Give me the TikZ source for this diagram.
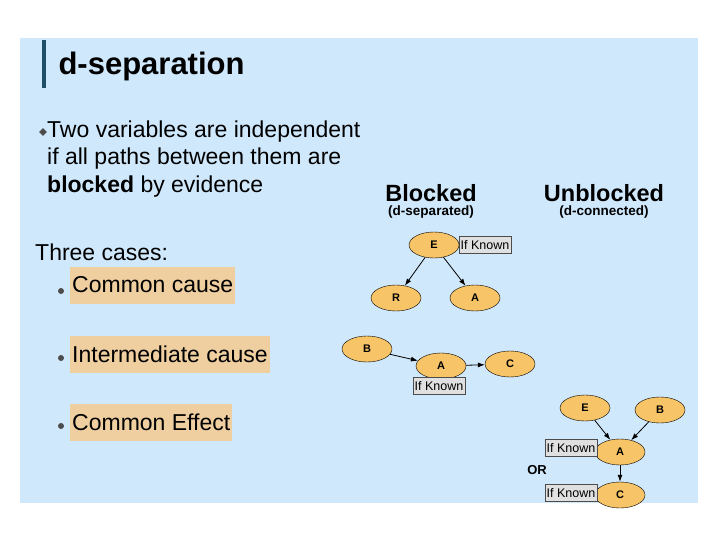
\documentclass[tikz,border=0pt]{standalone}
\usepackage{fontspec}
\setmainfont{Liberation Sans}
\usetikzlibrary{shapes.geometric,arrows.meta}
\definecolor{bg}{HTML}{CFE8FB}
\definecolor{nd}{HTML}{F8C468}
\definecolor{hl}{HTML}{EFCFA0}
\definecolor{bar}{HTML}{1F4F66}
\begin{document}
\begin{tikzpicture}[x=1pt,y=-1pt,
 nd/.style={ellipse,draw=black,fill=nd,minimum width=50pt,minimum height=26pt,inner sep=0pt,font=\fontsize{11}{12}\selectfont\bfseries},
 kn/.style={draw=black!70,fill=black!12,inner sep=1.5pt,minimum height=17pt,font=\fontsize{12.5}{13}\selectfont},
 ar/.style={-{Latex[length=7pt,width=5pt]},thick},
 hl/.style={fill=hl,inner sep=2pt,anchor=west,minimum height=37pt,font=\fontsize{23}{27}\selectfont},
 bt/.style={font=\fontsize{23}{27.5}\selectfont},
 dot/.style={circle,fill=black!70,inner sep=0pt,minimum size=6pt}]
\useasboundingbox (0,0) rectangle (720,540);
\fill[white] (0,0) rectangle (720,540);
\fill[bg] (20,38) rectangle (698,503);
\fill[bar] (42,40) rectangle (46,88);
\node[anchor=west,font=\fontsize{31}{32}\selectfont\bfseries] (title) at (55,66) {d-separation};
\node[diamond,fill=black!70,inner sep=0pt,minimum size=8pt] (d0) at (43,132) {};
\node[bt,anchor=west,align=left,inner sep=0pt] (intro) at (47,159) {Two variables are independent\\if all paths between them are\\\textbf{blocked} by evidence};
\node[bt,anchor=west,inner sep=0pt] (three) at (35,252) {Three cases:};
\node[hl] (c1) at (70,285) {Common cause};
\node[hl] (c2) at (70,354) {Intermediate cause};
\node[hl] (c3) at (70,422) {Common Effect};
\node[dot] (b1) at (61,291) {};
\node[dot] (b2) at (61,358) {};
\node[dot] (b3) at (61,426) {};
\node[font=\fontsize{23.5}{24}\selectfont\bfseries] (bl) at (431,193) {Blocked};
\node[font=\fontsize{13.5}{14}\selectfont\bfseries] (bls) at (431,212) {(d-separated)};
\node[font=\fontsize{23.5}{24}\selectfont\bfseries] (ub) at (604,193) {Unblocked};
\node[font=\fontsize{13.5}{14}\selectfont\bfseries] (ubs) at (604,212) {(d-connected)};
% common cause
\node[nd] (E1) at (434,245) {E};
\node[kn,anchor=west] (k1) at (459,245) {If Known};
\node[nd] (R1) at (396,298) {R};
\node[nd] (A1) at (475,298) {A};
\draw[ar] (E1) -- (R1);
\draw[ar] (E1) -- (A1);
% intermediate
\node[nd] (B2) at (367,349) {B};
\node[nd] (A2) at (441,366) {A};
\node[nd] (C2) at (510,364) {C};
\node[kn] (k2) at (439,386) {If Known};
\draw[ar] (B2) -- (A2);
\draw[ar] (A2) -- (C2);
% common effect
\node[nd] (E3) at (585,408) {E};
\node[nd] (B3) at (660,410) {B};
\node[nd] (A3) at (620,452) {A};
\node[nd] (C3) at (620,495) {C};
\node[kn,anchor=east] (k3) at (597,448) {If Known};
\node[kn,anchor=east] (k4) at (597,493) {If Known};
\node[font=\fontsize{13}{14}\selectfont\bfseries] (or) at (537,470) {OR};
\draw[ar] (E3) -- (A3);
\draw[ar] (B3) -- (A3);
\draw[ar] (A3) -- (C3);
\end{tikzpicture}
\end{document}
